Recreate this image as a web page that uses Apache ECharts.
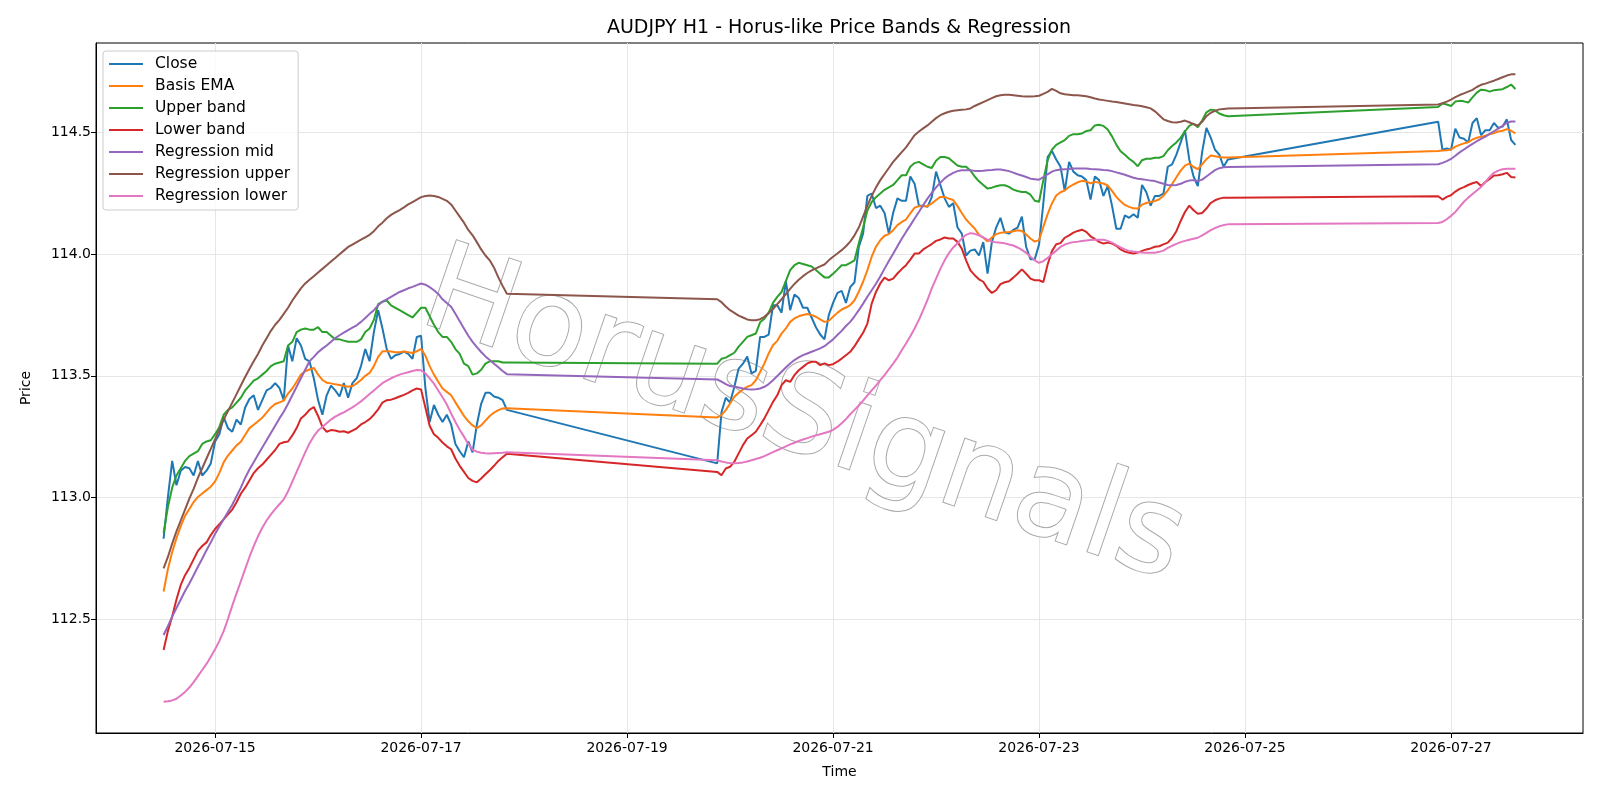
<!DOCTYPE html>
<html>
<head>
<meta charset="utf-8">
<title>AUDJPY H1 - Horus-like Price Bands & Regression</title>
<script src="https://cdn.jsdelivr.net/npm/echarts@6/dist/echarts.min.js"></script>
<style>
html, body { margin: 0; padding: 0; background: #fff; }
#main { width: 1600px; height: 800px; }
</style>
</head>
<body>
<div id="main"></div>
<script>
// trading sessions: first bar (UTC) and number of hourly bars
var sessions = [
    ['2026-07-14T12:00:00Z', 81],
    ['2026-07-19T21:00:00Z', 120],
    ['2026-07-26T21:00:00Z', 19]
];
var xTickDays = ['2026-07-15', '2026-07-17', '2026-07-19', '2026-07-21', '2026-07-23', '2026-07-25', '2026-07-27'];
var yTicks = [112.5, 113.0, 113.5, 114.0, 114.5];

var seriesNames = ['Close', 'Basis EMA', 'Upper band', 'Lower band', 'Regression mid', 'Regression upper', 'Regression lower'];
var seriesColors = ['#1f77b4', '#ff7f0e', '#2ca02c', '#d62728', '#9467bd', '#8c564b', '#e377c2'];

var closeVals = [
    // session 1
    112.83,113.00,113.15,113.05,113.11,113.125,113.12,113.09,113.15,113.09,
    113.11,113.14,113.23,113.26,113.33,113.285,113.27,113.32,113.30,113.37,
    113.405,113.42,113.36,113.40,113.44,113.45,113.47,113.45,113.40,113.625,
    113.56,113.655,113.625,113.57,113.56,113.49,113.40,113.34,113.42,113.46,
    113.44,113.415,113.47,113.41,113.47,113.49,113.54,113.61,113.56,113.68,
    113.77,113.695,113.61,113.57,113.585,113.59,113.60,113.59,113.57,113.66,
    113.665,113.45,113.31,113.38,113.34,113.31,113.34,113.30,113.22,113.19,
    113.165,113.23,113.185,113.30,113.385,113.43,113.43,113.415,113.41,113.40,
    113.36,
    // session 2
    113.14,113.35,113.41,113.39,113.455,113.53,113.55,113.58,113.51,113.52,
    113.66,113.66,113.67,113.79,113.79,113.76,113.89,113.77,113.835,113.82,
    113.78,113.78,113.74,113.70,113.67,113.65,113.75,113.80,113.84,113.85,
    113.80,113.865,113.885,114.03,114.085,114.24,114.25,114.19,114.20,114.17,
    114.085,114.17,114.23,114.22,114.22,114.32,114.29,114.20,114.20,114.195,
    114.235,114.34,114.285,114.23,114.195,114.21,114.11,114.085,113.995,114.015,
    114.02,113.995,114.05,113.92,114.05,114.11,114.15,114.09,114.085,114.10,
    114.11,114.155,114.03,113.98,113.98,114.04,114.21,114.40,114.425,114.39,
    114.36,114.26,114.38,114.34,114.325,114.32,114.305,114.225,114.32,114.305,
    114.24,114.28,114.20,114.105,114.105,114.16,114.15,114.165,114.15,114.285,
    114.255,114.20,114.24,114.24,114.25,114.36,114.37,114.41,114.46,114.51,
    114.39,114.32,114.28,114.42,114.52,114.48,114.43,114.41,114.36,114.39,
    // session 3
    114.545,114.43,114.435,114.43,114.517,114.48,114.475,114.46,114.54,114.56,
    114.49,114.51,114.51,114.54,114.52,114.525,114.555,114.47,114.45
];

var emaVals = [
    112.613,112.705,112.775,112.832,112.882,112.924,112.952,112.981,113.002,113.016,
    113.03,113.044,113.066,113.101,113.144,113.172,113.193,113.214,113.229,113.257,
    113.285,113.299,113.313,113.328,113.349,113.37,113.384,113.391,113.398,113.427,
    113.448,113.476,113.505,113.519,113.526,113.533,113.505,113.483,113.472,113.469,
    113.465,113.462,113.458,113.455,113.458,113.469,113.483,113.5,113.512,113.54,
    113.578,113.601,113.601,113.6,113.597,113.597,113.6,113.597,113.594,113.601,
    113.611,113.583,113.54,113.505,113.476,113.448,113.434,113.42,113.391,113.363,
    113.335,113.313,113.296,113.285,113.296,113.316,113.335,113.349,113.359,113.366,
    113.367,
    113.329,113.338,113.359,113.386,113.414,113.43,113.444,113.455,113.462,113.482,
    113.516,113.551,113.592,113.626,113.644,113.674,113.695,113.722,113.736,113.745,
    113.75,113.754,113.75,113.743,113.732,113.722,113.726,113.743,113.759,113.773,
    113.781,113.791,113.811,113.846,113.887,113.935,113.99,114.031,114.058,114.076,
    114.083,114.099,114.12,114.133,114.143,114.168,114.192,114.198,114.198,114.198,
    114.209,114.223,114.236,114.236,114.229,114.223,114.198,114.17,114.143,114.124,
    114.106,114.08,114.068,114.053,114.069,114.083,114.088,114.091,114.092,114.095,
    114.099,114.096,114.081,114.065,114.052,114.058,114.113,114.165,114.209,114.242,
    114.255,114.263,114.277,114.287,114.296,114.302,114.299,114.292,114.298,114.294,
    114.291,114.283,114.261,114.236,114.218,114.203,114.195,114.189,114.188,114.204,
    114.211,114.215,114.219,114.226,114.241,114.263,114.289,114.317,114.344,114.365,
    114.373,114.359,114.35,114.37,114.391,114.406,114.403,114.4,114.398,114.398,
    114.425,114.427,114.428,114.431,114.443,114.45,114.456,114.461,114.472,114.479,
    114.483,114.488,114.494,114.499,114.505,114.508,114.515,114.508,114.497
];

var upperVals = [
    112.853,112.96,113.04,113.09,113.12,113.15,113.17,113.18,113.19,113.22,
    113.23,113.235,113.26,113.29,113.34,113.36,113.37,113.39,113.41,113.44,
    113.46,113.48,113.49,113.505,113.52,113.54,113.55,113.555,113.56,113.625,
    113.64,113.68,113.69,113.695,113.69,113.69,113.70,113.68,113.68,113.665,
    113.65,113.65,113.645,113.64,113.64,113.64,113.65,113.68,113.695,113.73,
    113.795,113.805,113.81,113.79,113.78,113.77,113.76,113.75,113.74,113.76,
    113.78,113.78,113.745,113.71,113.68,113.66,113.66,113.64,113.61,113.59,
    113.55,113.54,113.505,113.51,113.525,113.55,113.56,113.56,113.56,113.555,
    113.555,
    113.55,113.57,113.575,113.585,113.595,113.62,113.64,113.66,113.667,113.674,
    113.72,113.735,113.76,113.80,113.825,113.845,113.89,113.935,113.955,113.965,
    113.96,113.955,113.95,113.935,113.92,113.905,113.905,113.92,113.937,113.955,
    113.955,113.965,113.975,114.045,114.11,114.18,114.215,114.235,114.25,114.265,
    114.275,114.285,114.305,114.325,114.325,114.36,114.375,114.38,114.37,114.36,
    114.355,114.385,114.40,114.40,114.395,114.38,114.365,114.36,114.36,114.345,
    114.32,114.30,114.285,114.27,114.274,114.28,114.284,114.284,114.277,114.266,
    114.26,114.256,114.256,114.245,114.22,114.216,114.305,114.387,114.43,114.45,
    114.46,114.47,114.487,114.494,114.494,114.497,114.507,114.51,114.53,114.533,
    114.528,114.513,114.485,114.451,114.424,114.409,114.393,114.38,114.362,114.387,
    114.393,114.393,114.397,114.397,114.404,114.428,114.445,114.46,114.48,114.505,
    114.528,114.537,114.523,114.55,114.584,114.595,114.592,114.579,114.572,114.568,
    114.606,114.62,114.616,114.61,114.628,114.631,114.629,114.624,114.645,114.665,
    114.677,114.675,114.669,114.675,114.677,114.679,114.688,114.698,114.68
];

var lowerVals = [
    112.372,112.45,112.51,112.58,112.64,112.68,112.71,112.745,112.78,112.80,
    112.815,112.845,112.87,112.89,112.91,112.93,112.95,112.98,113.015,113.04,
    113.07,113.10,113.12,113.135,113.155,113.175,113.195,113.22,113.227,113.23,
    113.255,113.285,113.325,113.34,113.36,113.372,113.335,113.29,113.27,113.277,
    113.275,113.27,113.272,113.266,113.275,113.284,113.30,113.31,113.322,113.34,
    113.362,113.39,113.40,113.402,113.408,113.415,113.422,113.43,113.44,113.448,
    113.444,113.37,113.295,113.26,113.245,113.226,113.21,113.198,113.16,113.13,
    113.105,113.08,113.068,113.062,113.078,113.095,113.112,113.13,113.15,113.165,
    113.18,
    113.105,113.091,113.119,113.126,113.147,113.181,113.215,113.242,113.256,113.27,
    113.297,113.325,113.359,113.393,113.42,113.462,113.482,113.475,113.503,113.523,
    113.537,113.551,113.558,113.558,113.544,113.551,113.544,113.548,113.558,113.571,
    113.585,113.599,113.622,113.65,113.677,113.715,113.797,113.845,113.88,113.904,
    113.893,113.90,113.921,113.939,113.955,113.978,114.003,114.003,114.02,114.031,
    114.042,114.055,114.061,114.069,114.065,114.065,114.051,114.023,113.975,113.934,
    113.914,113.897,113.887,113.859,113.841,113.852,113.877,113.885,113.889,113.904,
    113.92,113.938,113.92,113.90,113.893,113.893,113.886,113.958,114.013,114.041,
    114.046,114.068,114.078,114.089,114.096,114.101,114.092,114.074,114.063,114.051,
    114.044,114.048,114.044,114.035,114.02,114.011,114.006,114.003,114.007,114.014,
    114.02,114.024,114.031,114.033,114.041,114.048,114.067,114.095,114.137,114.174,
    114.2,114.181,114.167,114.17,114.188,114.211,114.222,114.229,114.233,114.233,
    114.239,114.225,114.236,114.243,114.258,114.269,114.276,114.285,114.292,114.297,
    114.281,114.297,114.31,114.324,114.325,114.329,114.335,114.318,114.316
];

var regMidVals = [
    112.434,112.47,112.51,112.545,112.58,112.615,112.646,112.68,112.715,112.748,
    112.783,112.815,112.85,112.88,112.91,112.94,112.97,113.005,113.04,113.08,
    113.115,113.145,113.175,113.205,113.235,113.265,113.295,113.325,113.352,113.385,
    113.42,113.455,113.49,113.525,113.56,113.578,113.597,113.612,113.625,113.64,
    113.655,113.667,113.678,113.688,113.698,113.708,113.722,113.738,113.755,113.77,
    113.79,113.805,113.815,113.825,113.835,113.845,113.852,113.86,113.866,113.873,
    113.88,113.875,113.865,113.852,113.837,113.815,113.80,113.784,113.755,113.725,
    113.695,113.665,113.64,113.618,113.598,113.58,113.565,113.55,113.535,113.52,
    113.507,
    113.485,113.476,113.466,113.458,113.455,113.452,113.448,113.445,113.444,113.445,
    113.448,113.455,113.466,113.482,113.499,113.517,113.534,113.551,113.565,113.576,
    113.585,113.592,113.599,113.606,113.613,113.622,113.636,113.65,113.668,113.685,
    113.705,113.722,113.745,113.77,113.797,113.825,113.852,113.879,113.909,113.941,
    113.972,114.002,114.033,114.064,114.092,114.119,114.147,114.174,114.202,114.229,
    114.253,114.275,114.294,114.312,114.325,114.335,114.342,114.346,114.346,114.346,
    114.343,114.343,114.344,114.346,114.347,114.349,114.349,114.346,114.342,114.336,
    114.329,114.324,114.318,114.311,114.309,114.307,114.317,114.329,114.34,114.346,
    114.349,114.35,114.351,114.353,114.353,114.353,114.353,114.351,114.35,114.349,
    114.347,114.346,114.342,114.337,114.332,114.327,114.321,114.315,114.311,114.309,
    114.306,114.303,114.301,114.295,114.29,114.285,114.284,114.285,114.29,114.298,
    114.303,114.305,114.301,114.307,114.32,114.333,114.346,114.354,114.358,114.359,
    114.37,114.376,114.383,114.392,114.405,114.419,114.431,114.443,114.454,114.465,
    114.475,114.484,114.495,114.506,114.517,114.528,114.541,114.546,114.546
];

var regUpperVals = [
    112.708,112.755,112.81,112.86,112.905,112.95,112.995,113.035,113.08,113.12,
    113.16,113.2,113.24,113.28,113.32,113.355,113.39,113.425,113.46,113.495,
    113.528,113.56,113.59,113.625,113.655,113.685,113.71,113.73,113.755,113.78,
    113.81,113.835,113.86,113.88,113.895,113.91,113.925,113.94,113.955,113.97,
    113.985,114.0,114.015,114.03,114.04,114.05,114.06,114.07,114.08,114.095,
    114.115,114.13,114.148,114.162,114.172,114.182,114.193,114.205,114.215,114.225,
    114.235,114.24,114.242,114.24,114.236,114.228,114.22,114.205,114.18,114.155,
    114.13,114.10,114.078,114.05,114.02,113.995,113.975,113.945,113.905,113.87,
    113.838,
    113.815,113.803,113.785,113.77,113.759,113.748,113.74,113.732,113.729,113.729,
    113.733,113.743,113.758,113.775,113.795,113.815,113.836,113.858,113.878,113.895,
    113.91,113.923,113.934,113.942,113.95,113.958,113.975,113.99,114.003,114.017,
    114.033,114.052,114.078,114.11,114.155,114.2,114.24,114.275,114.305,114.33,
    114.355,114.38,114.4,114.42,114.44,114.465,114.49,114.505,114.518,114.53,
    114.545,114.56,114.572,114.58,114.586,114.59,114.592,114.594,114.596,114.6,
    114.61,114.618,114.626,114.634,114.642,114.65,114.654,114.656,114.656,114.654,
    114.652,114.65,114.649,114.649,114.65,114.652,114.66,114.668,114.68,114.672,
    114.662,114.658,114.656,114.654,114.654,114.652,114.65,114.646,114.641,114.637,
    114.634,114.631,114.628,114.626,114.623,114.62,114.617,114.614,114.612,114.609,
    114.605,114.6,114.588,114.572,114.555,114.548,114.543,114.542,114.545,114.55,
    114.543,114.535,114.53,114.545,114.568,114.582,114.59,114.596,114.598,114.6,
    114.616,114.621,114.628,114.636,114.646,114.655,114.662,114.669,114.676,114.688,
    114.697,114.702,114.708,114.714,114.721,114.728,114.735,114.74,114.74
];

var regLowerVals = [
    112.16,112.162,112.165,112.172,112.185,112.2,112.218,112.24,112.265,112.29,
    112.315,112.345,112.375,112.41,112.45,112.5,112.555,112.605,112.655,112.705,
    112.755,112.8,112.84,112.875,112.905,112.93,112.952,112.972,112.992,113.025,
    113.065,113.105,113.145,113.185,113.222,113.252,113.275,113.29,113.305,113.32,
    113.332,113.342,113.35,113.36,113.37,113.382,113.395,113.41,113.425,113.44,
    113.455,113.47,113.48,113.49,113.498,113.505,113.51,113.515,113.52,113.524,
    113.523,113.51,113.49,113.468,113.44,113.412,113.382,113.345,113.31,113.278,
    113.25,113.22,113.196,113.188,113.184,113.182,113.181,113.182,113.183,113.184,
    113.186,
    113.153,113.148,113.144,113.141,113.14,113.142,113.144,113.148,113.153,113.158,
    113.163,113.17,113.178,113.186,113.194,113.202,113.21,113.218,113.225,113.232,
    113.238,113.244,113.25,113.255,113.26,113.265,113.27,113.278,113.29,113.305,
    113.322,113.342,113.36,113.378,113.398,113.42,113.44,113.46,113.482,113.503,
    113.527,113.55,113.575,113.605,113.633,113.663,113.695,113.73,113.77,113.812,
    113.86,113.9,113.94,113.975,114.005,114.028,114.045,114.065,114.08,114.087,
    114.084,114.078,114.07,114.06,114.052,114.049,114.047,114.045,114.04,114.036,
    114.028,114.018,114.006,113.99,113.975,113.965,113.972,113.985,114.0,114.015,
    114.03,114.04,114.046,114.05,114.052,114.055,114.057,114.059,114.06,114.06,
    114.06,114.055,114.048,114.038,114.028,114.02,114.014,114.011,114.009,114.007,
    114.006,114.006,114.006,114.01,114.015,114.026,114.035,114.043,114.05,114.055,
    114.06,114.064,114.068,114.078,114.088,114.099,114.108,114.115,114.12,114.123,
    114.129,114.133,114.144,114.158,114.174,114.195,114.216,114.233,114.248,114.262,
    114.277,114.297,114.318,114.335,114.344,114.35,114.352,114.352,114.352
];

var allVals = [closeVals, emaVals, upperVals, lowerVals, regMidVals, regUpperVals, regLowerVals];

// hourly bar times (ms, UTC)
var times = [];
sessions.forEach(function (s) {
    var t0 = Date.parse(s[0]);
    for (var i = 0; i < s[1]; i++) times.push(t0 + i * 3600000);
});
allVals.forEach(function (a, k) {
    if (a.length !== times.length) console.warn(seriesNames[k] + ' has ' + a.length + ' values, expected ' + times.length);
});

// 5% margins like the original plot
var tMin = times[0], tMax = times[times.length - 1];
var tPad = (tMax - tMin) * 0.05;
var flat = [].concat.apply([], allVals);
var vMin = Math.min.apply(null, flat), vMax = Math.max.apply(null, flat);
var vPad = (vMax - vMin) * 0.05;

function pad2(n) { return (n < 10 ? '0' : '') + n; }
function fmtDay(v) {
    var d = new Date(v);
    return d.getUTCFullYear() + '-' + pad2(d.getUTCMonth() + 1) + '-' + pad2(d.getUTCDate());
}

var font = 'DejaVu Sans';
var xTickVals = xTickDays.map(function (d) { return Date.parse(d + 'T00:00:00Z'); });

var series = seriesNames.map(function (name, k) {
    return {
        name: name,
        type: 'line',
        data: times.map(function (t, i) { return [t, allVals[k][i]]; }),
        showSymbol: false,
        symbol: 'none',
        silent: true,
        z: 3,
        lineStyle: { width: 2, color: seriesColors[k] },
        itemStyle: { color: seriesColors[k] }
    };
});

var chart = echarts.init(document.getElementById('main'));
chart.setOption({
    animation: false,
    backgroundColor: '#fff',
    title: {
        text: 'AUDJPY H1 - Horus-like Price Bands & Regression',
        left: 839,
        top: 19,
        padding: 0,
        textAlign: 'center',
        textStyle: { fontFamily: font, fontSize: 19, fontWeight: 'normal', color: '#000' }
    },
    legend: {
        data: seriesNames,
        orient: 'vertical',
        left: 103,
        top: 51,
        icon: 'rect',
        itemWidth: 34,
        itemHeight: 2,
        itemGap: 6,
        padding: [5, 8, 6, 6],
        backgroundColor: 'rgba(255,255,255,0.8)',
        borderColor: '#cccccc',
        borderWidth: 1,
        borderRadius: 3,
        selectedMode: false,
        textStyle: { fontFamily: font, fontSize: 15.5, color: '#000', lineHeight: 16, padding: [0, 0, 0, 7] }
    },
    grid: {
        left: 96, right: 17, top: 43, bottom: 67,
        show: true, borderColor: '#000', borderWidth: 1
    },
    xAxis: {
        type: 'value',
        min: tMin - tPad,
        max: tMax + tPad,
        name: 'Time',
        nameLocation: 'middle',
        nameGap: 32,
        nameTextStyle: { fontFamily: font, fontSize: 14, color: '#000' },
        axisLine: { show: true, lineStyle: { color: '#000', width: 1 } },
        axisTick: { show: true, length: 5, customValues: xTickVals, lineStyle: { color: '#000' } },
        axisLabel: { customValues: xTickVals, formatter: fmtDay, margin: 8, fontFamily: font, fontSize: 14, color: '#000' },
        splitLine: { show: true, lineStyle: { color: '#e6e6e6', width: 1 } }
    },
    yAxis: {
        type: 'value',
        min: vMin - vPad,
        max: vMax + vPad,
        name: 'Price',
        nameLocation: 'middle',
        nameGap: 63,
        nameTextStyle: { fontFamily: font, fontSize: 14, color: '#000' },
        axisLine: { show: true, lineStyle: { color: '#000', width: 1 } },
        axisTick: { show: true, length: 5, customValues: yTicks, lineStyle: { color: '#000' } },
        axisLabel: {
            customValues: yTicks,
            formatter: function (v) { return v.toFixed(1); },
            margin: 5, fontFamily: font, fontSize: 14, color: '#000'
        },
        splitLine: { show: true, lineStyle: { color: '#e6e6e6', width: 1 } }
    },
    graphic: [{
        type: 'text',
        x: 803,
        y: 420,
        rotation: -19 * Math.PI / 180,
        z: 1,
        silent: true,
        style: {
            text: 'HorusSignals',
            font: '122px "DejaVu Sans"',
            align: 'center',
            verticalAlign: 'middle',
            fill: '#ffffff',
            stroke: '#a8a8a8',
            lineWidth: 2,
            shadowColor: 'rgba(0,0,0,0.3)',
            shadowBlur: 3,
            shadowOffsetX: 4,
            shadowOffsetY: 4
        }
    }],
    series: series
});
</script>
</body>
</html>
